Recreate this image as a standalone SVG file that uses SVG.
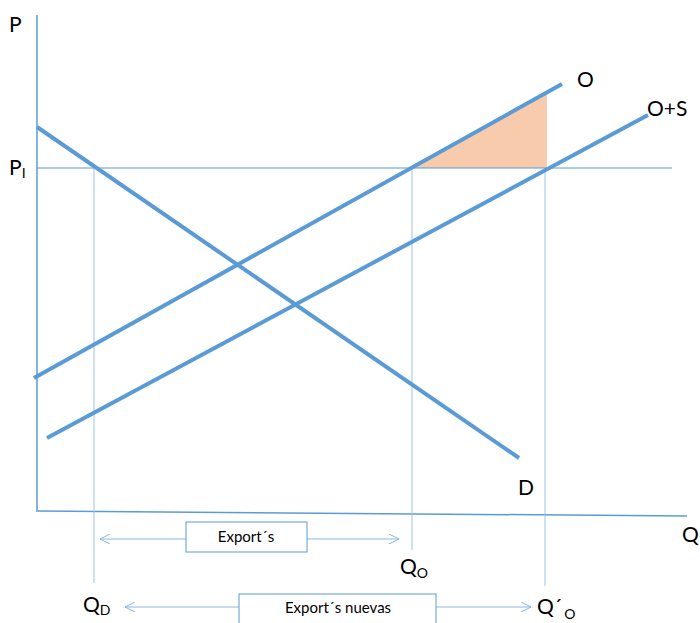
<svg xmlns="http://www.w3.org/2000/svg" width="700" height="623" viewBox="0 0 700 623">
<style>
.thick{stroke:#5B9BD5;stroke-width:4;fill:none;stroke-linecap:butt}
.axis{stroke:#5B9BD5;stroke-width:1.5;fill:none}
.thin{stroke:#5B9BD5;stroke-width:1;fill:none}
.guide{stroke:#9DC3E6;stroke-width:1;fill:none}
.arr{stroke:#8DB4E2;stroke-width:1;fill:none}
.lbl{font-family:Lato,"Open Sans","Liberation Sans",sans-serif;font-size:21px;fill:#000}
.sub{font-size:14px}
.box{fill:#fff;stroke:#5B9BD5;stroke-width:1}
.bt{font-family:Lato,"Open Sans","Liberation Sans",sans-serif;font-size:15px;fill:#000;text-anchor:middle}
</style>
<defs>
<marker id="ah" viewBox="0 0 10 10" refX="10" refY="5" markerWidth="10" markerHeight="10" markerUnits="userSpaceOnUse" orient="auto-start-reverse">
<path d="M0,0 L10,5 L0,10" fill="none" stroke="#8DB4E2" stroke-width="1"/>
</marker>
</defs>
<g id="surplus">
<polygon points="413,168 547,93 547,168" fill="#F8CBAD"/>
</g>
<g id="axes">
<line class="axis" x1="37" y1="15" x2="37" y2="512"/>
<line class="axis" x1="38" y1="511" x2="687" y2="516"/>
</g>
<g id="guides">
<line class="thin" x1="37" y1="168" x2="672" y2="168"/>
<line class="guide" x1="94" y1="168" x2="94" y2="583"/>
<line class="guide" x1="412" y1="168" x2="412" y2="550"/>
<line class="guide" x1="545" y1="168" x2="545" y2="586"/>
</g>
<g id="curves">
<line id="D" class="thick" x1="37" y1="127" x2="519" y2="458"/>
<line id="O" class="thick" x1="34" y1="378" x2="562" y2="84"/>
<line id="OS" class="thick" x1="47" y1="438" x2="648" y2="115"/>
</g>
<g id="connectors">
<line class="arr" x1="100" y1="539" x2="186" y2="539" marker-start="url(#ah)"/>
<line class="arr" x1="307" y1="539" x2="399" y2="539" marker-end="url(#ah)"/>
<line class="arr" x1="125" y1="607" x2="239" y2="607" marker-start="url(#ah)"/>
<line class="arr" x1="436" y1="607" x2="531" y2="607" marker-end="url(#ah)"/>
</g>
<g id="export">
<rect class="box" x="186" y="522" width="121" height="30"/>
<text class="bt" x="246" y="542">Export´s</text>
</g>
<g id="export-nuevas">
<rect class="box" x="239" y="594" width="197" height="40"/>
<text class="bt" x="338" y="613">Export´s nuevas</text>
</g>
<g id="labels">
<text class="lbl" x="9" y="32">P</text>
<text class="lbl" x="9" y="175">P<tspan class="sub" dy="3">I</tspan></text>
<text class="lbl" x="577" y="87">O</text>
<text class="lbl" x="647" y="116">O+S</text>
<text class="lbl" x="518" y="495">D</text>
<text class="lbl" x="682" y="542">Q</text>
<text class="lbl" x="400" y="574">Q<tspan class="sub" dy="4">O</tspan></text>
<text class="lbl" x="83" y="612">Q<tspan class="sub" dy="3">D</tspan></text>
<text class="lbl" x="537" y="614">Q´<tspan class="sub" dy="5" dx="2">O</tspan></text>
</g>
</svg>
